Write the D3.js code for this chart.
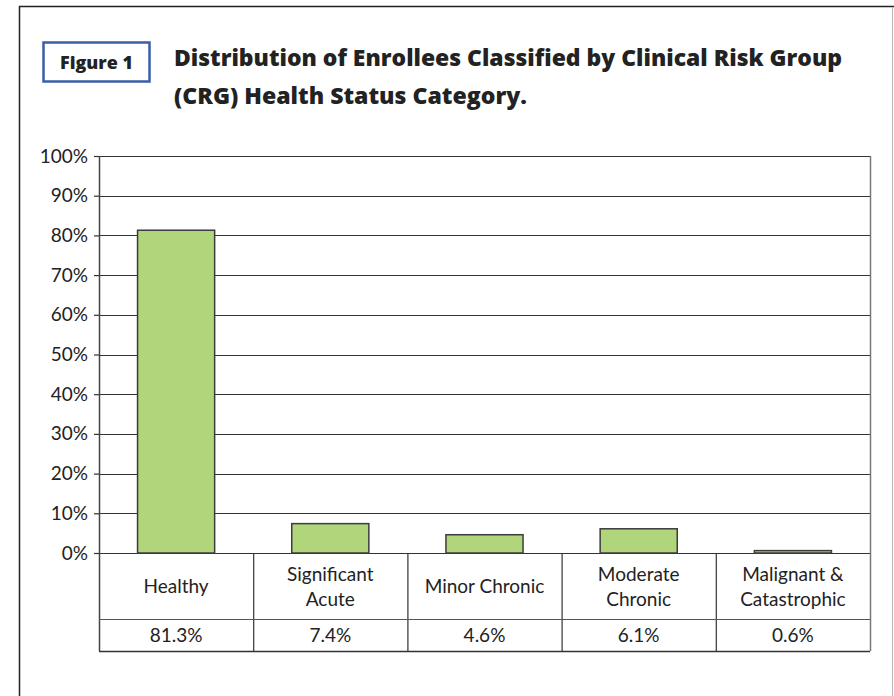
<!DOCTYPE html>
<html>
<head>
<meta charset="utf-8">
<script src="https://cdn.jsdelivr.net/npm/d3@7"></script>
<style>
  body { margin: 0; background: #fff; }
  svg { display: block; }
  .tick text, .cat, .val { font-family: Lato, 'Open Sans', sans-serif; fill: #222; }
  .title { font-family: 'Open Sans', sans-serif; font-weight: 800; fill: #222; }
</style>
</head>
<body>
<svg width="894" height="696"></svg>
<script>
// chart data
const categories = ['Healthy', 'Significant Acute', 'Minor Chronic', 'Moderate Chronic', 'Malignant & Catastrophic']
const catLines = [['Healthy'], ['Significant', 'Acute'], ['Minor Chronic'], ['Moderate', 'Chronic'], ['Malignant &', 'Catastrophic']]
const shares = [81.3, 7.4, 4.6, 6.1, 0.6]
const valueLabels = ['81.3%', '7.4%', '4.6%', '6.1%', '0.6%']
const yTicks = [0, 10, 20, 30, 40, 50, 60, 70, 80, 90, 100]

const svg = d3.select('svg')

// outer frame
svg.append('path')
.attr('d', 'M19.5,700 V6.5 H894')
.attr('fill', 'none')
.attr('stroke', '#222')
.attr('stroke-width', 1.5)

svg.append('line')
.attr('x1', 892.5).attr('x2', 892.5)
.attr('y1', 7).attr('y2', 700)
.attr('stroke', '#bbb')

// figure tag
svg.append('rect')
.attr('x', 43.5).attr('y', 42.5)
.attr('width', 106).attr('height', 39)
.attr('fill', '#fff')
.attr('stroke', '#3a5ea8')
.attr('stroke-width', 2.5)

svg.append('text')
.attr('class', 'title')
.attr('x', 60).attr('y', 69)
.attr('font-size', 17)
.attr('textLength', 73).attr('lengthAdjust', 'spacingAndGlyphs')
.text('Figure 1')

// title
const title = svg.append('text')
.attr('class', 'title')
.attr('font-size', 23)

title.append('tspan').attr('x', 174).attr('y', 66)
.attr('textLength', 668).attr('lengthAdjust', 'spacingAndGlyphs')
.text('Distribution of Enrollees Classified by Clinical Risk Group')
title.append('tspan').attr('x', 174).attr('y', 104)
.attr('textLength', 353).attr('lengthAdjust', 'spacingAndGlyphs')
.text('(CRG) Health Status Category.')

// scales
const plot = {left: 99, right: 870, top: 156, base: 553}
const x = d3.scaleBand().domain(categories).range([plot.left, plot.right])
const y = d3.scaleLinear().domain([0, 100]).range([plot.base, plot.top])
const row1 = 66, row2 = 32

// gridlines
svg.append('g')
.selectAll('line')
.data(yTicks)
.join('line')
.attr('x1', plot.left).attr('x2', plot.right)
.attr('y1', d => Math.round(y(d)) + 0.5)
.attr('y2', d => Math.round(y(d)) + 0.5)
.attr('stroke', '#333')
.attr('stroke-width', 1.2)

// y axis
const yAxis = svg.append('g')
.attr('transform', `translate(${plot.left},0)`)
.call(d3.axisLeft(y).tickValues(yTicks).tickSize(5).tickPadding(6).tickFormat(d => d + '%'))

yAxis.select('.domain').remove()
yAxis.selectAll('.tick line').attr('stroke', '#333').attr('stroke-width', 1.2)
yAxis.selectAll('.tick text').attr('font-size', 19)

// bars
svg.append('g')
.selectAll('rect')
.data(shares)
.join('rect')
.attr('x', (d, i) => x(categories[i]) + x.bandwidth() * 0.25)
.attr('y', d => y(d))
.attr('width', x.bandwidth() * 0.5)
.attr('height', d => y(0) - y(d))
.attr('fill', '#b0d57a')
.attr('stroke', '#3c3c3c')
.attr('stroke-width', 1.5)

// axis lines through the table
svg.append('line')
.attr('x1', plot.left + 0.5).attr('x2', plot.left + 0.5)
.attr('y1', plot.top).attr('y2', plot.base + row1 + row2)
.attr('stroke', '#444')
.attr('stroke-width', 1.5)

svg.append('line')
.attr('x1', plot.right + 0.5).attr('x2', plot.right + 0.5)
.attr('y1', plot.top).attr('y2', plot.base + row1 + row2)
.attr('stroke', '#777')
.attr('stroke-width', 1.5)

// data table
const table = svg.append('g')

table.selectAll('.colsep')
.data(categories.slice(1))
.join('line')
.attr('class', 'colsep')
.attr('x1', d => x(d) + 0.5).attr('x2', d => x(d) + 0.5)
.attr('y1', plot.base).attr('y2', plot.base + row1 + row2)
.attr('stroke', '#333')
.attr('stroke-width', 1.2)

table.append('line')
.attr('x1', plot.left).attr('x2', plot.right)
.attr('y1', plot.base + row1 + 0.5).attr('y2', plot.base + row1 + 0.5)
.attr('stroke', '#555').attr('stroke-width', 1.2)

table.append('line')
.attr('x1', plot.left).attr('x2', plot.right)
.attr('y1', plot.base + row1 + row2 + 0.5).attr('y2', plot.base + row1 + row2 + 0.5)
.attr('stroke', '#333').attr('stroke-width', 1.5)

table.selectAll('.cat')
.data(catLines)
.join('text')
.attr('class', 'cat')
.attr('font-size', 19)
.attr('text-anchor', 'middle')
.each(function(lines, i) {
  const cx = x(categories[i]) + x.bandwidth() / 2
  const start = plot.base + row1 / 2 + 7 - (lines.length - 1) * 12.5
  d3.select(this).selectAll('tspan')
  .data(lines)
  .join('tspan')
  .attr('x', cx)
  .attr('y', (l, j) => start + j * 25)
  .text(l => l)
})

table.selectAll('.val')
.data(valueLabels)
.join('text')
.attr('class', 'val')
.attr('font-size', 19)
.attr('text-anchor', 'middle')
.attr('x', (d, i) => x(categories[i]) + x.bandwidth() / 2)
.attr('y', plot.base + row1 + row2 / 2 + 7)
.text(d => d)
</script>
</body>
</html>
